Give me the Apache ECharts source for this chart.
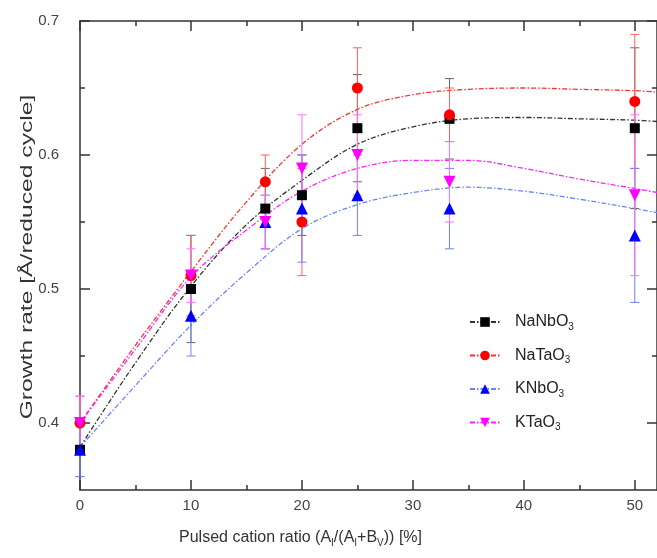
<!DOCTYPE html>
<html><head><meta charset="utf-8">
<script src="https://cdn.jsdelivr.net/npm/echarts@6/dist/echarts.min.js"></script>
<style>html,body{margin:0;padding:0;background:#fff}#c{width:657px;height:558px}</style>
</head><body><div id="c"></div>
<script>
// ---- data ----
const compounds = ['NaNbO3', 'NaTaO3', 'KNbO3', 'KTaO3'];
const ratioX = [0, 10, 16.7, 20, 25, 33.3, 50];
const naNbO3 = [0.38, 0.50, 0.56, 0.57, 0.62, 0.627, 0.62];
const naTaO3 = [0.40, 0.51, 0.58, 0.55, 0.65, 0.63, 0.64];
const kNbO3  = [0.38, 0.48, 0.55, 0.56, 0.57, 0.56, 0.54];
const kTaO3  = [0.40, 0.51, 0.55, 0.59, 0.60, 0.58, 0.57];
const errNaNbO3 = [0.02, 0.04, 0.03, 0.03, 0.04, 0.03, 0.06];
const errNaTaO3 = [0.02, 0.03, 0.02, 0.04, 0.03, 0.02, 0.05];
const errKNbO3  = [0.02, 0.03, 0.02, 0.04, 0.03, 0.03, 0.05];
const errKTaO3  = [0.02, 0.02, 0.02, 0.04, 0.03, 0.03, 0.06];
// fitted curves
const fitX = [0, 5, 10, 15, 20, 25, 30, 35, 40, 45, 50, 52];
const fitNaNbO3 = [0.382, 0.445, 0.502, 0.548, 0.581, 0.608, 0.621, 0.627, 0.628, 0.627, 0.626, 0.625];
const fitNaTaO3 = [0.400, 0.458, 0.513, 0.565, 0.608, 0.634, 0.645, 0.649, 0.650, 0.649, 0.648, 0.647];
const fitKNbO3  = [0.382, 0.428, 0.473, 0.512, 0.545, 0.563, 0.572, 0.576, 0.573, 0.567, 0.560, 0.557];
const fitKTaO3  = [0.400, 0.455, 0.509, 0.544, 0.573, 0.590, 0.596, 0.596, 0.590, 0.582, 0.575, 0.572];
const xTicks = [0, 10, 20, 30, 40, 50];
const xMinor = [5, 15, 25, 35, 45];
const yTicks = [0.4, 0.5, 0.6, 0.7];
const yMinor = [0.45, 0.55, 0.65];
const xTitle = 'Pulsed cation ratio (A{s|I}/(A{s|I}+B{s|V})) [%]';
const yTitle = 'Growth rate [Å/reduced cycle]';

// ---- styles ----
const FONT = '"Liberation Sans", Arial, sans-serif';
const AX = '#333';
const markColors = ['#000000', '#ff0000', '#0000ff', '#ff00ff'];
const lineColors = ['#333333', '#ff3030', '#6a84ff', '#ff20ff'];
const errColors = ['#666666', '#ff6060', '#7080ff', '#ff70ff'];
const symbols = ['rect', 'circle', 'triangle', 'triangle'];
const symRot = [0, 0, 0, 180];
const symSize = [10, 11, 12, 12];
const values = [naNbO3, naTaO3, kNbO3, kTaO3];
const errs = [errNaNbO3, errNaTaO3, errKNbO3, errKTaO3];
const fits = [fitNaNbO3, fitNaTaO3, fitKNbO3, fitKTaO3];

const XMIN = 0, XMAX = 52, YMIN = 0.35, YMAX = 0.7;

function xAx(pos, major, showLabel, showLine) {
  return {
    type: 'value', position: pos, min: XMIN, max: XMAX,
    axisLine: {show: showLine, onZero: false, lineStyle: {color: AX, width: 1.5}},
    axisTick: {show: true, inside: true, length: major ? 10 : 5, customValues: major ? xTicks : xMinor,
      lineStyle: {color: AX, width: 1.5}},
    axisLabel: {show: showLabel, customValues: xTicks, margin: 8, color: '#444', fontSize: 15, fontFamily: FONT},
    splitLine: {show: false}
  };
}
function yAx(pos, major, showLabel, showLine) {
  return {
    type: 'value', position: pos, min: YMIN, max: YMAX,
    axisLine: {show: showLine, onZero: false, lineStyle: {color: AX, width: 1.5}},
    axisTick: {show: true, inside: true, length: major ? 10 : 5, customValues: major ? yTicks : yMinor,
      lineStyle: {color: AX, width: 1.5}},
    axisLabel: {show: showLabel, customValues: yTicks, margin: 21, color: '#444', fontSize: 15, fontFamily: FONT,
      formatter: v => v.toFixed(1)},
    splitLine: {show: false}
  };
}

const xAxes = [xAx('bottom', true, true, true), xAx('bottom', false, false, false),
               xAx('top', true, false, true), xAx('top', false, false, false)];
xAxes[0].name = xTitle;
xAxes[0].nameLocation = 'middle';
xAxes[0].nameGap = 38;
xAxes[0].nameTextStyle = {color: '#333', fontSize: 16, fontFamily: FONT, padding: [0, 136, 0, 0],
  rich: {s: {fontSize: 10, fontFamily: FONT, color: '#333', padding: [10, 0, 0, 0]}}};

const yAxes = [yAx('left', true, true, true), yAx('left', false, false, false),
               yAx('right', true, false, true), yAx('right', false, false, false)];

const series = [];
// fit lines first (provide legend icons)
compounds.forEach((name, i) => {
  series.push({
    name, type: 'line', xAxisIndex: 0, yAxisIndex: 0,
    data: fitX.map((x, k) => [x, fits[i][k]]),
    smooth: 0.35, showSymbol: false, symbol: symbols[i], symbolRotate: symRot[i], symbolSize: symSize[i],
    color: markColors[i],
    itemStyle: {color: markColors[i]},
    lineStyle: {color: lineColors[i], width: 1.3, type: [5, 2, 1.5, 2]},
    clip: true, silent: true, z: 2
  });
});
// error bars
compounds.forEach((name, i) => {
  series.push({
    name, type: 'custom', xAxisIndex: 0, yAxisIndex: 0, z: 3,
    data: ratioX.map((x, k) => [x, values[i][k] - errs[i][k], values[i][k] + errs[i][k]]),
    renderItem: (params, api) => {
      const x = api.value(0);
      const p1 = api.coord([x, api.value(1)]);
      const p2 = api.coord([x, api.value(2)]);
      const w = 4.5;
      const st = {stroke: errColors[i], lineWidth: 1};
      return {type: 'group', children: [
        {type: 'line', shape: {x1: p1[0], y1: p1[1], x2: p2[0], y2: p2[1]}, style: st},
        {type: 'line', shape: {x1: p1[0] - w, y1: p1[1], x2: p1[0] + w, y2: p1[1]}, style: st},
        {type: 'line', shape: {x1: p2[0] - w, y1: p2[1], x2: p2[0] + w, y2: p2[1]}, style: st}
      ]};
    },
    silent: true
  });
});
// markers
compounds.forEach((name, i) => {
  series.push({
    name, type: 'scatter', xAxisIndex: 0, yAxisIndex: 0, z: 4,
    data: ratioX.map((x, k) => [x, values[i][k]]),
    symbol: symbols[i], symbolRotate: symRot[i], symbolSize: symSize[i],
    itemStyle: {color: markColors[i], opacity: 1}
  });
});

const chart = echarts.init(document.getElementById('c'), null, {renderer: 'canvas'});
chart.setOption({
  animation: false,
  backgroundColor: '#fff',
  grid: {left: 80, right: -2, top: 21, bottom: 68, containLabel: false},
  xAxis: xAxes,
  yAxis: yAxes,
  graphic: [{
    type: 'text', x: 27, y: 257, rotation: Math.PI / 2, scaleX: 1.45, scaleY: 1,
    style: {text: yTitle, font: '17px ' + FONT, fill: '#333', align: 'center', verticalAlign: 'middle'},
    silent: true
  }],
  legend: {
    orient: 'vertical', left: 464, top: 309,
    data: compounds,
    itemWidth: 30, itemHeight: 12, itemGap: 15.5,
    formatter: n => n.replace(/(\d)$/, '{s|$1}'),
    textStyle: {color: '#222', fontSize: 16, fontFamily: FONT, padding: [0, 0, 0, 10],
      rich: {s: {fontSize: 10, fontFamily: FONT, color: '#222', padding: [10, 0, 0, 0]}}}
  },
  series
});
</script></body></html>
